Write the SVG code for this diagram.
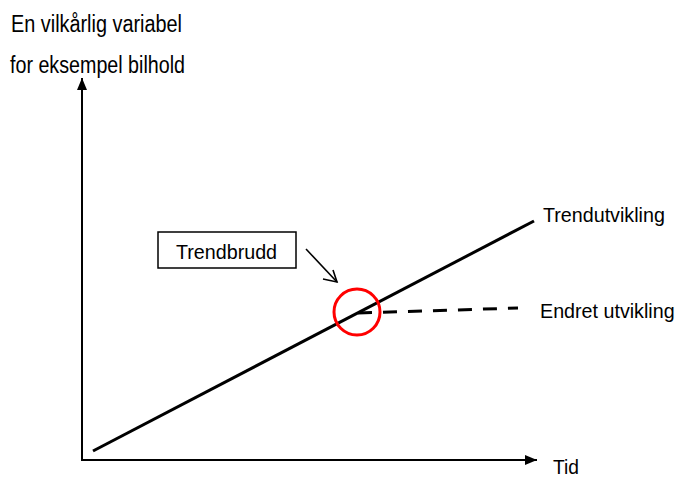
<svg xmlns="http://www.w3.org/2000/svg" width="676" height="478" viewBox="0 0 676 478">
<defs>
<style>
.t{font-family:"Liberation Sans",Arial,sans-serif;fill:#000}
.n{font-size:23px}
.r{font-size:19.7px}
.ax{stroke:#000;stroke-width:2;fill:none}
</style>
<marker id="ah" markerWidth="12" markerHeight="10" refX="12" refY="5" orient="auto" markerUnits="userSpaceOnUse">
<path d="M0,0 L12,5 L0,10 Z" fill="#000"/>
</marker>
</defs>
<rect width="676" height="478" fill="#fff"/>
<g id="axes">
<line class="ax" x1="82" y1="460" x2="82" y2="78" marker-end="url(#ah)"/>
<line class="ax" x1="81" y1="460" x2="537" y2="460" marker-end="url(#ah)"/>
</g>
<g id="labels">
<text class="t n" x="11" y="32" textLength="171" lengthAdjust="spacingAndGlyphs">En vilkårlig variabel</text>
<text class="t n" x="10" y="73" textLength="175" lengthAdjust="spacingAndGlyphs">for eksempel bilhold</text>
<text class="t" x="553" y="474" font-size="21" textLength="26" lengthAdjust="spacingAndGlyphs">Tid</text>
</g>
<g id="connectors">
<line x1="93" y1="451" x2="534" y2="221" stroke="#000" stroke-width="3"/>
<line x1="358" y1="313" x2="518" y2="308" stroke="#000" stroke-width="3" stroke-dasharray="14,11"/>
<g id="pointer" stroke="#000" stroke-width="1.6" fill="none">
<line x1="306" y1="249" x2="337" y2="282"/>
<polyline points="323,279 337,282 333,270"/>
</g>
</g>
<g id="trendbrudd">
<rect x="158" y="232" width="138" height="36" fill="#fff" stroke="#000" stroke-width="1.5"/>
<text class="t r" x="176" y="259">Trendbrudd</text>
</g>
<g id="trendutvikling">
<text class="t r" x="543" y="222">Trendutvikling</text>
</g>
<g id="endret">
<text class="t r" x="540" y="318">Endret utvikling</text>
</g>
<g id="circle">
<circle cx="357" cy="312" r="23" fill="none" stroke="#f00" stroke-width="3"/>
</g>
</svg>
